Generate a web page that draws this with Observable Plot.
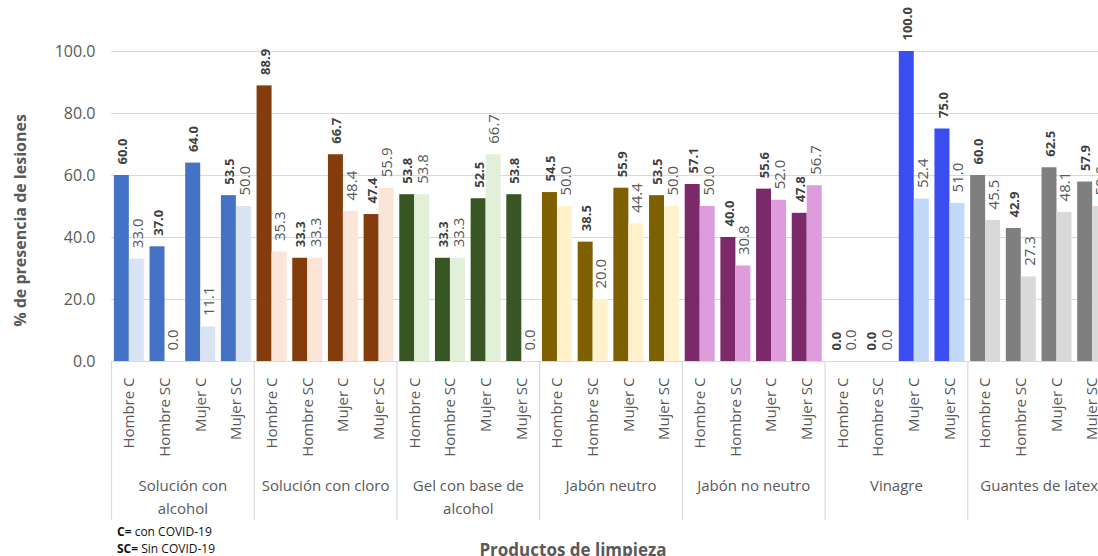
<!DOCTYPE html>
<html><head><meta charset="utf-8">
<script src="https://cdn.jsdelivr.net/npm/d3@7"></script>
<script src="https://cdn.jsdelivr.net/npm/@observablehq/plot@0.6"></script>
<style>
html,body{margin:0;padding:0;background:#fff;overflow:hidden;}
#wrap{position:relative;width:1098px;height:556px;overflow:hidden;background:#fff;}
#chart svg{max-width:none !important;}
#note{position:absolute;left:117px;top:523px;font:12px "Open Sans",sans-serif;line-height:17px;color:#111;white-space:nowrap;}
#note b{font-weight:700;}
</style></head><body>
<div id="wrap"><div id="chart"></div><div id="note"><b>C=</b> con COVID-19<br><b>SC=</b> Sin COVID-19</div></div>
<script>
const productos = ["Solución con alcohol","Solución con cloro","Gel con base de alcohol","Jabón neutro","Jabón no neutro","Vinagre","Guantes de latex"];
const productoEtiquetas = ["Solución con\nalcohol","Solución con cloro","Gel con base de\nalcohol","Jabón neutro","Jabón no neutro","Vinagre","Guantes de latex"];
const subgrupos = ["Hombre C","Hombre SC","Mujer C","Mujer SC"];
const valoresOscuros = [
  [60.0, 37.0, 64.0, 53.5],
  [88.9, 33.3, 66.7, 47.4],
  [53.8, 33.3, 52.5, 53.8],
  [54.5, 38.5, 55.9, 53.5],
  [57.1, 40.0, 55.6, 47.8],
  [0.0, 0.0, 100.0, 75.0],
  [60.0, 42.9, 62.5, 57.9]
];
const valoresClaros = [
  [33.0, 0.0, 11.1, 50.0],
  [35.3, 33.3, 48.4, 55.9],
  [53.8, 33.3, 66.7, 0.0],
  [50.0, 20.0, 44.4, 50.0],
  [50.0, 30.8, 52.0, 56.7],
  [0.0, 0.0, 52.4, 51.0],
  [45.5, 27.3, 48.1, 50.0]
];
const coloresOscuros = ["#4472C4","#843C0C","#375623","#7F6000","#7B2968","#3A4DF0","#7F7F7F"];
const coloresClaros  = ["#DAE3F3","#FBE5D6","#E2F0D9","#FFF2CC","#DE9CDC","#C2D8F9","#D9D9D9"];
const yTicks = [0, 20, 40, 60, 80, 100];
const ejeY = "% de presencia de lesiones";
const ejeX = "Productos de limpieza";

const filas = [];
productos.forEach((p, i) => subgrupos.forEach((s, j) => filas.push({
  producto: p, sub: s, key: p + "|" + s,
  oscuro: valoresOscuros[i][j], claro: valoresClaros[i][j],
  colorOscuro: coloresOscuros[i], colorClaro: coloresClaros[i]
})));
const keys = filas.map(d => d.key);
const grupos = productos.map((p, i) => ({producto: p, etiqueta: productoEtiquetas[i], primera: p + "|" + subgrupos[0], segunda: p + "|" + subgrupos[1]}));

const W = 1116, H = 556, mL = 111, mR = 6, mT = 51, mB = 195;
const xRange = [mL, W - mR];
const step = (xRange[1] - xRange[0]) / keys.length;
const bw = step * (1 - 0.16);
const frameH = H - mT - mB;

const chart = Plot.plot({
  width: W, height: H,
  marginLeft: mL, marginRight: mR, marginTop: mT, marginBottom: mB,
  style: {fontFamily: "'Open Sans', sans-serif", fontSize: "15px", color: "#595959", background: "#fff"},
  x: {type: "band", domain: keys, range: xRange, paddingInner: 0.16, paddingOuter: 0.08, align: 0.5, round: false, axis: null},
  y: {domain: [0, 100], axis: null},
  color: {type: "identity"},
  marks: [
    Plot.gridY(yTicks, {stroke: "#d9d9d9", strokeOpacity: 1, strokeWidth: 1.2}),
    Plot.ruleY([0], {stroke: "#d9d9d9", strokeWidth: 1.2}),
    Plot.axisY(yTicks, {tickSize: 0, tickPadding: 16, tickFormat: d => d.toFixed(1), fontSize: 16, label: null}),
    Plot.ruleX(grupos, {x: "primera", dx: -step / 2, stroke: "#d9d9d9", strokeWidth: 1.2, insetTop: frameH, insetBottom: -159}),
    Plot.barY(filas, {x: "key", y: "oscuro", fill: "colorOscuro", insetRight: bw / 2}),
    Plot.barY(filas, {x: "key", y: "claro", fill: "colorClaro", insetLeft: bw / 2}),
    Plot.text(filas, {x: "key", y: "oscuro", text: d => d.oscuro.toFixed(1), rotate: -90, textAnchor: "start", lineAnchor: "middle", dx: -bw / 4 + 1, dy: -11, fontWeight: "bold", fontSize: 13, fill: "#404040"}),
    Plot.text(filas, {x: "key", y: "claro", text: d => d.claro.toFixed(1), rotate: -90, textAnchor: "start", lineAnchor: "middle", dx: bw / 4 + 1, dy: -11, fontSize: 15, fill: "#595959"}),
    Plot.axisX({tickRotate: -90, tickSize: 0, tickPadding: 16, tickFormat: d => d.split("|")[1], fontSize: 15, label: null}),
    Plot.text(grupos, {x: "segunda", text: "etiqueta", frameAnchor: "bottom", dx: step / 2, dy: 113, lineAnchor: "top", lineHeight: 1.55, textAnchor: "middle", fontSize: 15, fill: "#595959"}),
    Plot.text([ejeY], {frameAnchor: "left", dx: -91, dy: 14, rotate: -90, textAnchor: "middle", lineAnchor: "middle", fontWeight: "bold", fontSize: 16, fill: "#595959"}),
    Plot.text([ejeX], {frameAnchor: "bottom", dx: -38, dy: 182, lineAnchor: "top", textAnchor: "middle", fontWeight: "bold", fontSize: 17, fill: "#595959"})
  ]
});
document.getElementById("chart").appendChild(chart);
</script>
</body></html>
